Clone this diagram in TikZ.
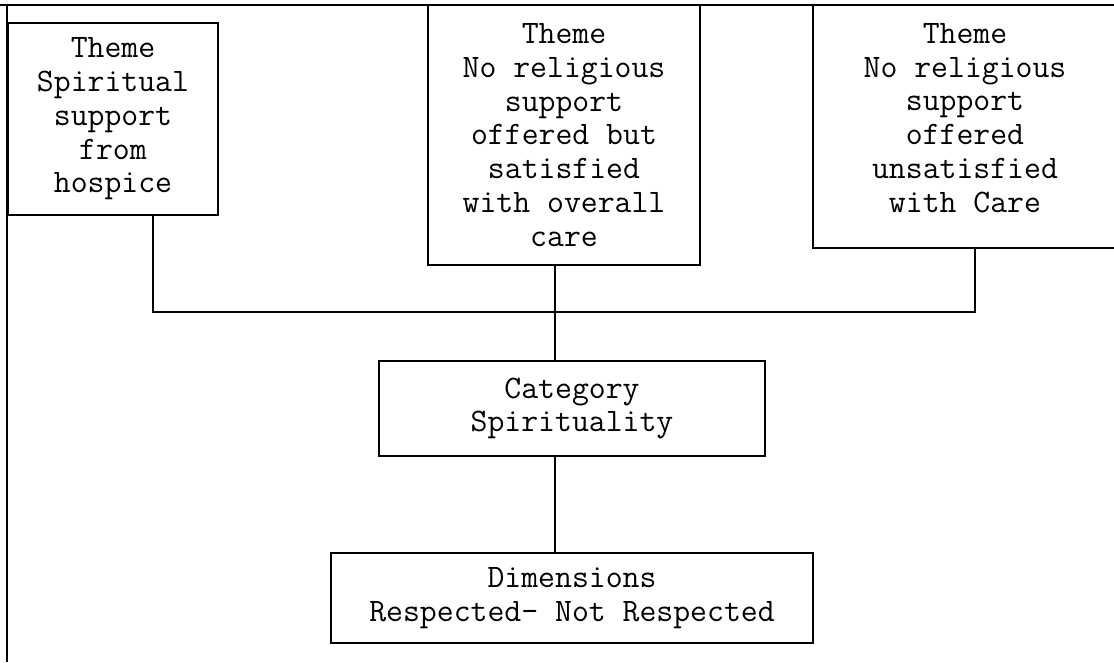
\documentclass[tikz,border=0pt]{standalone}
\usepackage{fontspec}
\newcommand\boxfont{\ttfamily\fontsize{32.8}{33.7}\selectfont}
\begin{document}
\begin{tikzpicture}[x=1pt, y=-1pt, line width=1.5pt,
  box/.style={draw, rectangle, inner sep=0pt, align=center, font=\boxfont},
  txt/.style={inner sep=0pt, align=center, font=\boxfont}]
\useasboundingbox (0,0) rectangle (1114,662);

% outer frame: top and left rules
\coordinate (tl) at (7,5);
\draw (0,5) -- (1114,5);
\draw (tl) -- (7,662);

% theme boxes
\node[box, minimum width=210pt, minimum height=192pt] (b1) at (113,119)
  {Theme\\Spiritual\\support\\from\\hospice};
\node[box, minimum width=272pt, minimum height=260pt] (b2) at (564,135)
  {Theme\\No religious\\support\\offered but\\satisfied\\with overall\\care};
\node[box, minimum width=306pt, minimum height=243pt] (b3) at (966,126.5) {};
\node[txt] (b3t) at (965,118)
  {Theme\\No religious\\support\\offered\\unsatisfied\\with Care};

% category and dimensions
\node[box, minimum width=386pt, minimum height=95pt] (cat) at (572,408.5)
  {Category\\Spirituality};
\node[box, minimum width=482pt, minimum height=90pt] (dim) at (572,598)
  {Dimensions\\Respected- Not Respected};

% junction points of the connector bar
\coordinate (j1) at (153,312);
\coordinate (hub) at (555,312);
\coordinate (j3) at (975,312);

\draw (b1.south -| j1) -- (j1) -- (j3) -- (b3.south -| j3);
\draw (b2.south -| hub) -- (hub) -- (cat.north -| hub);
\draw (cat.south -| hub) -- (dim.north -| hub);
\end{tikzpicture}
\end{document}
